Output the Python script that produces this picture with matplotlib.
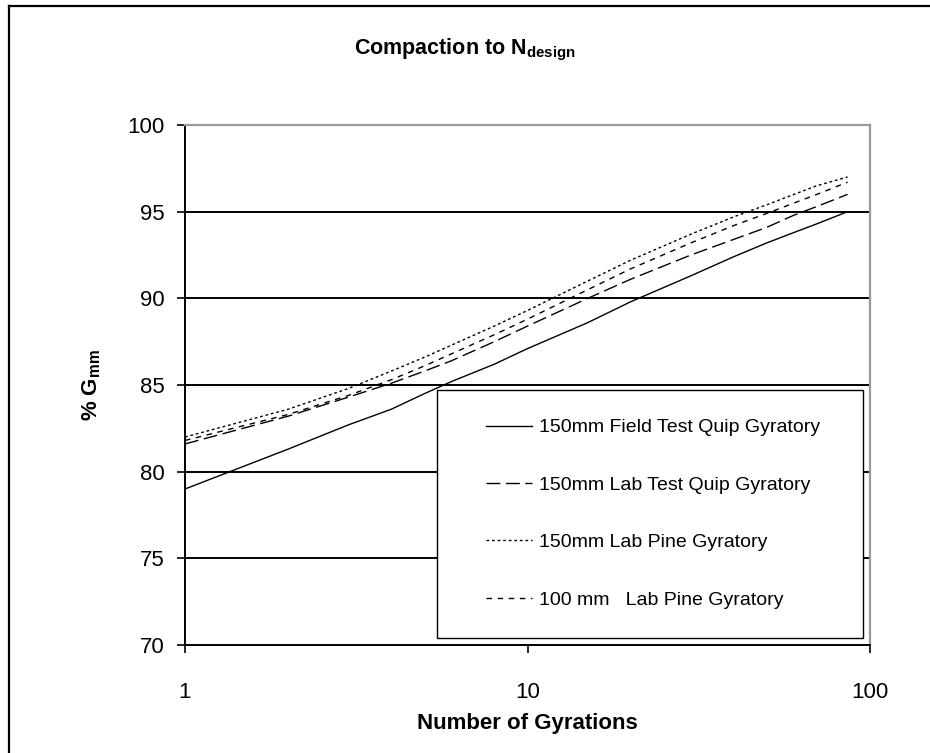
import matplotlib
matplotlib.use("Agg")
import matplotlib.pyplot as plt
from matplotlib.lines import Line2D
from matplotlib.patches import Rectangle

plt.rcParams["font.family"] = ["Liberation Sans", "DejaVu Sans"]
plt.rcParams["mathtext.fontset"] = "custom"
plt.rcParams["mathtext.rm"] = "Liberation Sans"
plt.rcParams["mathtext.bf"] = "Liberation Sans:bold"

# gyration counts and % Gmm for each compactor
gyrations = [1, 2, 3, 4, 5, 6, 8, 10, 15, 20, 30, 40, 50, 60, 70, 86]
field_tq_150 = [79.0, 81.3, 82.7, 83.6, 84.5, 85.2, 86.2, 87.1, 88.6, 89.8, 91.3, 92.4, 93.2, 93.8, 94.3, 95.0]
lab_tq_150 = [81.6, 83.2, 84.3, 85.1, 85.8, 86.4, 87.5, 88.4, 90.0, 91.1, 92.5, 93.4, 94.1, 94.8, 95.3, 96.0]
lab_pine_150 = [82.0, 83.6, 84.8, 85.8, 86.6, 87.3, 88.4, 89.3, 91.0, 92.2, 93.7, 94.7, 95.4, 96.0, 96.5, 97.0]
lab_pine_100 = [81.8, 83.3, 84.4, 85.3, 86.1, 86.8, 87.9, 88.8, 90.5, 91.7, 93.2, 94.2, 94.9, 95.5, 96.0, 96.7]

labels = ["150mm Field Test Quip Gyratory", "150mm Lab Test Quip Gyratory",
          "150mm Lab Pine Gyratory", "100 mm   Lab Pine Gyratory"]
y_ticks = [70, 75, 80, 85, 90, 95, 100]
x_ticks = [1, 10, 100]

W, H = 930, 753
fig = plt.figure(figsize=(W / 100, H / 100), dpi=100)
ax = fig.add_axes([185 / W, 1 - 645 / H, 685 / W, 520 / H])

lw = 1.0
ax.plot(gyrations, field_tq_150, color="black", lw=lw, ls="-", label=labels[0])
ax.plot(gyrations, lab_tq_150, color="black", lw=lw, ls=(0, (10, 4)), label=labels[1])
ax.plot(gyrations, lab_pine_150, color="black", lw=lw, ls=(0, (2, 2)), label=labels[2])
ax.plot(gyrations, lab_pine_100, color="black", lw=lw, ls=(0, (4, 4)), label=labels[3])

ax.set_xscale("log")
ax.set_xlim(1, 100)
ax.set_ylim(70, 100)
ax.set_xticks(x_ticks)
ax.set_xticklabels([str(t) for t in x_ticks])
ax.xaxis.set_minor_locator(matplotlib.ticker.NullLocator())
ax.set_yticks(y_ticks)
ax.tick_params(axis="both", direction="out", length=5.5, width=1.2, color="black",
               labelsize=16)
ax.tick_params(axis="y", pad=9)
ax.tick_params(axis="x", pad=21)

for v in y_ticks[1:-1]:
    ax.axhline(v, color="black", lw=1.4, zorder=0)

for s in ["left", "bottom"]:
    ax.spines[s].set_color("black")
    ax.spines[s].set_linewidth(1.4)
for s in ["top", "right"]:
    ax.spines[s].set_color("#999999")
    ax.spines[s].set_linewidth(1.6)

ax.set_xlabel("Number of Gyrations", fontsize=16, fontweight="bold", labelpad=7)
ax.set_ylabel(r"% $\mathbf{G_{mm}}$", fontsize=16, fontweight="bold", labelpad=18)

fig.text(0.5, 1 - 50 / H, r"Compaction to $\mathbf{N_{design}}$", ha="center", va="center",
         fontsize=15.5, fontweight="bold")

# legend box
fig.patches.append(Rectangle((437 / W, 1 - 638 / H), 426 / W, 248 / H, transform=fig.transFigure,
                             facecolor="white", edgecolor="black", lw=1.0, zorder=5))
leg = fig.legend(loc="upper left", bbox_to_anchor=(476 / W, 1 - 409 / H),
                 frameon=False, fontsize=14, handlelength=2.4, handletextpad=0.35,
                 labelspacing=2.05, borderpad=0)
leg.set_zorder(6)

# outer chart frame
fig.add_artist(Line2D([9 / W, 9 / W], [0, 1 - 6 / H], transform=fig.transFigure, color="black", lw=1.6))
fig.add_artist(Line2D([9 / W, 1], [1 - 6 / H, 1 - 6 / H], transform=fig.transFigure, color="black", lw=1.6))

fig.savefig("out.png", dpi=100, facecolor="white")
